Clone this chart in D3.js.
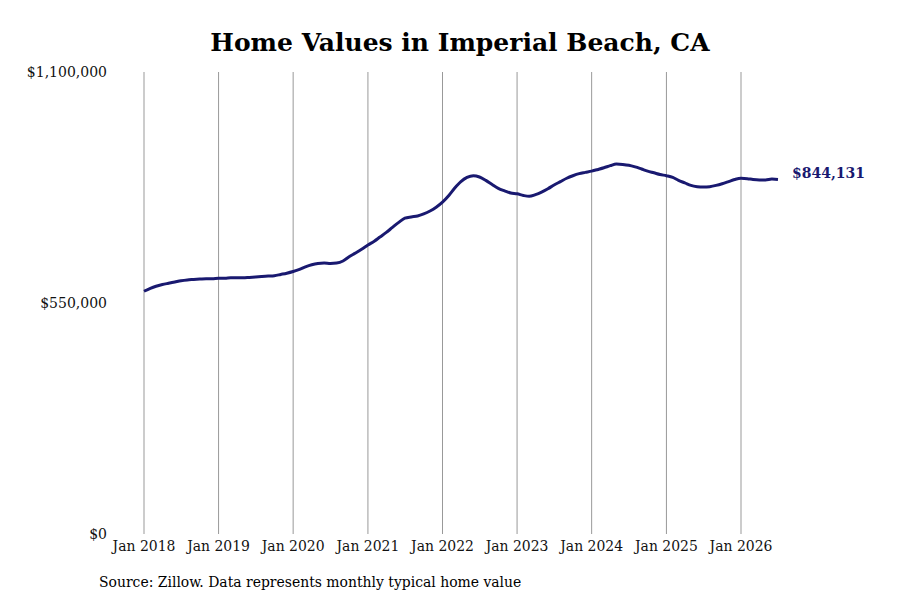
<!DOCTYPE html>
<html>
<head>
<meta charset="utf-8">
<script src="https://cdn.jsdelivr.net/npm/d3@7"></script>
<style>
  body { margin: 0; background: #fff; }
  text { font-family: "DejaVu Serif", serif; }
</style>
</head>
<body>
<div id="chart"></div>
<script>
// monthly typical home value, Jan 2018 .. Jul 2026
const startMonth = "2018-01";
const homeValues = [
  578, 585, 590, 594, 597, 600, 603, 605, 606, 607, 608, 608,
  609, 609, 610, 610, 610, 611, 612, 613, 614, 615, 618, 621,
  625, 630, 636, 641, 644, 645, 644, 645, 650, 660, 669, 678,
  688, 697, 707, 718, 730, 742, 752, 755, 757, 762, 769, 778,
  790, 806, 823, 839, 849, 853, 850, 842, 832, 823, 817, 812,
  810, 806, 804, 808, 814, 822, 831, 839, 847, 853, 858, 861,
  864, 868, 872, 877, 881, 880, 878, 874, 869, 864, 860, 856,
  853, 849, 842, 836, 830, 827, 826, 827, 830, 834, 839, 844,
  847, 846, 844, 843, 843, 845, 844.131
].map(v => v * 1000);
const yTicks = [0, 550000, 1100000];
const xTickYears = [2018, 2019, 2020, 2021, 2022, 2023, 2024, 2025, 2026];

const width = 900, height = 600;
const svg = d3.select("#chart")
  .append("svg")
  .attr("width", width)
  .attr("height", height);

const parse = d3.timeParse("%Y-%m");
const t0 = parse(startMonth);
const data = homeValues.map((v, i) => ({ date: d3.timeMonth.offset(t0, i), value: v }));

const x = d3.scaleTime()
  .domain([new Date(2018, 0, 1), new Date(2026, 0, 1)])
  .range([144, 741]);

const y = d3.scaleLinear()
  .domain([0, 1100000])
  .range([534, 72]);

// vertical grid at each January
svg.append("g")
  .selectAll("line")
  .data(xTickYears)
  .join("line")
  .attr("x1", d => x(new Date(d, 0, 1)))
  .attr("x2", d => x(new Date(d, 0, 1)))
  .attr("y1", y(1100000))
  .attr("y2", y(0))
  .attr("stroke", "#999")
  .attr("stroke-width", 1);

// x labels
svg.append("g")
  .selectAll("text")
  .data(xTickYears)
  .join("text")
  .attr("x", d => x(new Date(d, 0, 1)))
  .attr("y", 551)
  .attr("text-anchor", "middle")
  .attr("font-size", 15.5)
  .attr("font-stretch", "condensed")
  .attr("fill", "#111")
  .text(d => "Jan " + d);

// y labels
svg.append("g")
  .selectAll("text")
  .data(yTicks)
  .join("text")
  .attr("x", 107)
  .attr("y", d => y(d) + 5)
  .attr("text-anchor", "end")
  .attr("font-size", 14)
  .attr("fill", "#111")
  .text(d => d3.format("$,")(d));

// line
const line = d3.line()
  .x(d => x(d.date))
  .y(d => y(d.value))
  .curve(d3.curveMonotoneX);

svg.append("path")
  .datum(data)
  .attr("d", line)
  .attr("fill", "none")
  .attr("stroke", "#191970")
  .attr("stroke-width", 3);

// last value label
const last = data[data.length - 1];
svg.append("text")
  .attr("x", x(last.date) + 14)
  .attr("y", y(last.value) - 1)
  .attr("font-size", 14)
  .attr("font-weight", "bold")
  .attr("fill", "#191970")
  .text(d3.format("$,.0f")(last.value));

// title
svg.append("text")
  .attr("x", 460)
  .attr("y", 51)
  .attr("text-anchor", "middle")
  .attr("font-size", 25)
  .attr("font-weight", "bold")
  .attr("fill", "#000")
  .text("Home Values in Imperial Beach, CA");

// source note
svg.append("text")
  .attr("x", 99)
  .attr("y", 587)
  .attr("font-size", 15.5)
  .attr("font-stretch", "condensed")
  .attr("fill", "#000")
  .text("Source: Zillow. Data represents monthly typical home value");
</script>
</body>
</html>
